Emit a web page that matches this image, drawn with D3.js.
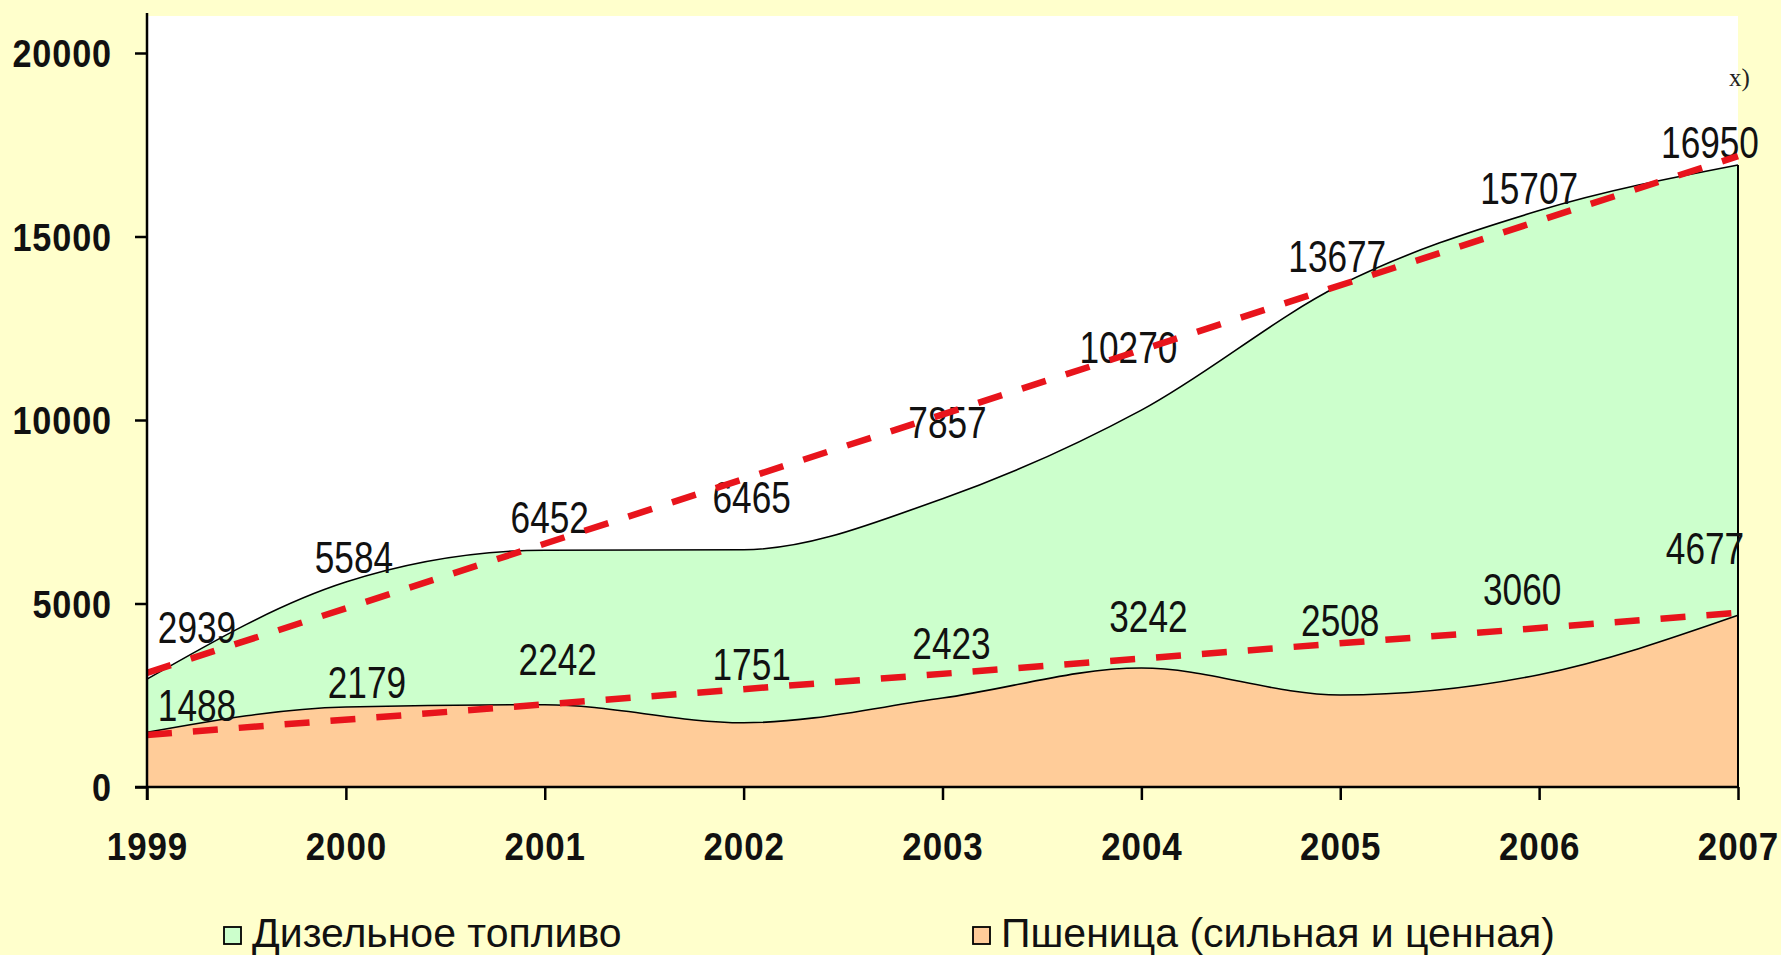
<!DOCTYPE html>
<html>
<head>
<meta charset="utf-8">
<script src="https://cdn.jsdelivr.net/npm/d3@7"></script>
<style>
  html, body { margin: 0; padding: 0; background: #FFFFCC; }
  svg { display: block; }
</style>
</head>
<body>
<svg id="chart" width="1781" height="955"></svg>
<script>
// ---- data ----
const years = ["1999","2000","2001","2002","2003","2004","2005","2006","2007"];
const diesel = [2939, 5584, 6452, 6465, 7857, 10270, 13677, 15707, 16950];
const wheat  = [1488, 2179, 2242, 1751, 2423, 3242, 2508, 3060, 4677];
const trendYears  = ["1999", "2007"];
const trendDiesel = [3110, 17190];
const trendWheat  = [1419, 4748];
const yTicks = [0, 5000, 10000, 15000, 20000];
const legendLabels = ["Дизельное топливо", "Пшеница (сильная и ценная)"];
const noteText = "x)";

// ---- layout (label offsets in px, centre of text relative to point) ----
const dieselLabelOffset = [[50,-47],[8,-20],[5,-28],[8,-48],[5,-72],[-13,-58],[-3,-24],[-10,-18],[-28,-18]];
const wheatLabelOffset  = [[50,-22],[21,-20],[13,-41],[8,-54],[9,-50],[7,-47],[0,-70],[-17,-81],[-33,-62]];

const svg = d3.select("#chart");
const W = 1781, H = 955;
const left = 147, right = 1738, plotTop = 16, bottom = 787;

svg.append("rect").attr("width", W).attr("height", H).attr("fill", "#FFFFCC");

const x = d3.scalePoint().domain(years).range([left, right]);
const y = d3.scaleLinear().domain([0, 20000]).range([bottom, 53]);

// plot area
svg.append("rect").attr("x", left).attr("y", plotTop)
   .attr("width", right - left).attr("height", bottom - plotTop).attr("fill", "#FFFFFF");

const curve = d3.curveMonotoneX;
const area = d3.area().x((d,i) => x(years[i])).y0(y(0)).y1(d => y(d)).curve(curve);
const line = d3.line().x((d,i) => x(years[i])).y(d => y(d)).curve(curve);

// diesel area
svg.append("path").datum(diesel).attr("d", area).attr("fill", "#CCFFCC");
svg.append("path").datum(diesel).attr("d", line).attr("fill", "none").attr("stroke", "#000").attr("stroke-width", 1.6);
// wheat area
svg.append("path").datum(wheat).attr("d", area).attr("fill", "#FFCC99");
svg.append("path").datum(wheat).attr("d", line).attr("fill", "none").attr("stroke", "#000").attr("stroke-width", 1.6);
// right edge of area
svg.append("line").attr("x1", x(years[years.length-1])).attr("x2", x(years[years.length-1]))
   .attr("y1", y(diesel[diesel.length-1])).attr("y2", y(0)).attr("stroke", "#000").attr("stroke-width", 2);

// data labels
const labelFont = "'Liberation Sans', Arial, sans-serif";
const lsx = 0.8;
function drawLabels(vals, offs) {
  svg.append("g").selectAll("text").data(vals).join("text")
    .attr("transform", (d,i) => `translate(${x(years[i]) + offs[i][0]},${y(d) + offs[i][1] + 11}) scale(${lsx},1)`)
    .attr("text-anchor", "middle")
    .attr("font-family", labelFont)
    .attr("font-size", 44)
    .attr("fill", "#111")
    .text(d => d);
}
drawLabels(diesel, dieselLabelOffset);
drawLabels(wheat, wheatLabelOffset);

// trend lines
const tline = d3.line().x((d,i) => x(trendYears[i])).y(d => y(d));
[trendDiesel, trendWheat].forEach(t => {
  svg.append("path").datum(t).attr("d", tline)
    .attr("fill", "none").attr("stroke", "#E8141C").attr("stroke-width", 6.5)
    .attr("stroke-dasharray", "25,21");
});

// note
svg.append("text").attr("x", 1729).attr("y", 86)
   .attr("font-family", "'Liberation Serif', 'Times New Roman', serif")
   .attr("font-size", 25).attr("fill", "#222").text(noteText);

// y axis
const ysx = 0.9;
const yAxis = svg.append("g").attr("transform", `translate(${left},0)`)
  .call(d3.axisLeft(y).tickValues(yTicks).tickSize(12).tickFormat(d3.format("d")));
yAxis.select(".domain").remove();
yAxis.selectAll(".tick line").attr("stroke", "#000").attr("stroke-width", 2.5);
yAxis.selectAll(".tick text")
  .attr("x", -35 / ysx).attr("dy", "0.36em")
  .attr("transform", `scale(${ysx},1)`)
  .attr("font-family", labelFont).attr("font-weight", "bold")
  .attr("font-size", 38).attr("fill", "#111").attr("letter-spacing", 1);
svg.append("line").attr("x1", left).attr("x2", left).attr("y1", 13).attr("y2", bottom + 13)
   .attr("stroke", "#000").attr("stroke-width", 2.5);

// x axis
const xsx = 0.92;
const xAxis = svg.append("g").attr("transform", `translate(0,${bottom})`)
  .call(d3.axisBottom(x).tickSize(13));
xAxis.select(".domain").remove();
xAxis.selectAll(".tick line").attr("stroke", "#000").attr("stroke-width", 2.5);
xAxis.selectAll(".tick text")
  .attr("y", 73).attr("dy", 0)
  .attr("transform", `scale(${xsx},1)`)
  .attr("font-family", labelFont).attr("font-weight", "bold")
  .attr("font-size", 38).attr("fill", "#111").attr("letter-spacing", 1);
svg.append("line").attr("x1", left - 12).attr("x2", right).attr("y1", bottom).attr("y2", bottom)
   .attr("stroke", "#000").attr("stroke-width", 2.5);

// legend
const legendColors = ["#CCFFCC", "#FFCC99"];
const legendX = [224, 973];
legendLabels.forEach((lab, i) => {
  const g = svg.append("g").attr("transform", `translate(${legendX[i]},0)`);
  g.append("rect").attr("x", 0).attr("y", 927).attr("width", 17).attr("height", 17)
    .attr("fill", legendColors[i]).attr("stroke", "#000").attr("stroke-width", 1.8);
  g.append("text").attr("x", 28).attr("y", 947)
    .attr("font-family", labelFont).attr("font-size", 41).attr("fill", "#111")
    .text(lab);
});
</script>
</body>
</html>
